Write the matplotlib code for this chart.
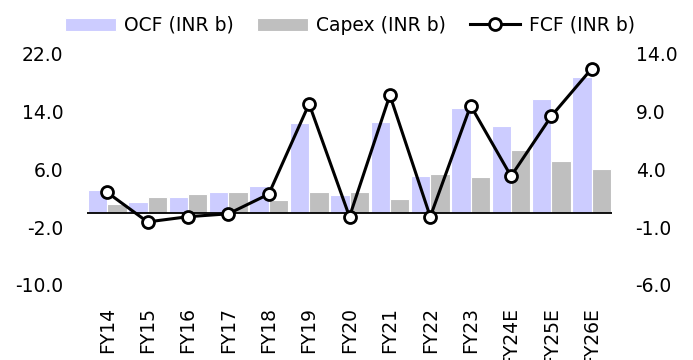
import numpy as np
from matplotlib import pyplot as plt
from matplotlib.ticker import FormatStrFormatter

years = ['FY14', 'FY15', 'FY16', 'FY17', 'FY18', 'FY19', 'FY20',
         'FY21', 'FY22', 'FY23', 'FY24E', 'FY25E', 'FY26E']
ocf = [3.1, 1.5, 2.2, 2.9, 3.7, 12.4, 2.4, 12.6, 5.1, 14.4, 12.0, 15.7, 18.8]
capex = [1.15, 2.1, 2.6, 2.8, 1.8, 2.8, 2.9, 1.9, 5.3, 4.9, 8.6, 7.1, 6.1]
fcf = [2.0, -0.55, -0.1, 0.15, 1.85, 9.65, -0.1, 10.4, -0.1, 9.5, 3.4, 8.6, 12.7]

left_ticks = [-10, -2, 6, 14, 22]
right_ticks = [-6, -1, 4, 9, 14]

plt.rcParams['font.family'] = 'DejaVu Sans'
fs = 13.5

fig = plt.figure(figsize=(6.93, 3.6), dpi=100)
ax = fig.add_axes([87/693, 75/360, 525/693, 231.5/360])
x = np.arange(len(years))

ax.bar(x - 0.24, ocf, width=0.48, color='#CCCCFF', edgecolor='white', lw=0.8,
       label='OCF (INR b)')
ax.bar(x + 0.24, capex, width=0.48, color='#BFBFBF', edgecolor='white', lw=0.8,
       label='Capex (INR b)')
ax.axhline(0, color='black', lw=1.3, zorder=3)
ax.set_xlim(-0.5, len(years) - 0.5)
ax.set_ylim(-10, 22)
ax.set_yticks(left_ticks)
ax.yaxis.set_major_formatter(FormatStrFormatter('%.1f'))
ax.set_xticks(x)
ax.set_xticklabels(years, rotation=90)

ax2 = ax.twinx()
ax2.plot(x, fcf, color='black', lw=2.2, marker='o', ms=8.6, mfc='white',
         mec='black', mew=2, label='FCF (INR b)')
ax2.set_ylim(-6, 14)
ax2.set_yticks(right_ticks)
ax2.yaxis.set_major_formatter(FormatStrFormatter('%.1f'))

for a in (ax, ax2):
    for s in a.spines.values():
        s.set_visible(False)
    a.tick_params(axis='both', length=0, labelsize=fs, colors='black')
ax.tick_params(axis='y', pad=17)
ax.tick_params(axis='x', pad=16)
ax2.tick_params(axis='y', pad=17)

h1, l1 = ax.get_legend_handles_labels()
h2, l2 = ax2.get_legend_handles_labels()
fig.legend(h1 + h2, l1 + l2, loc='center', bbox_to_anchor=(0.505, 0.93),
           ncol=3, frameon=False, fontsize=fs, handlelength=2.7,
           handletextpad=0.45, columnspacing=1.25)

fig.savefig('out.png', dpi=100)
